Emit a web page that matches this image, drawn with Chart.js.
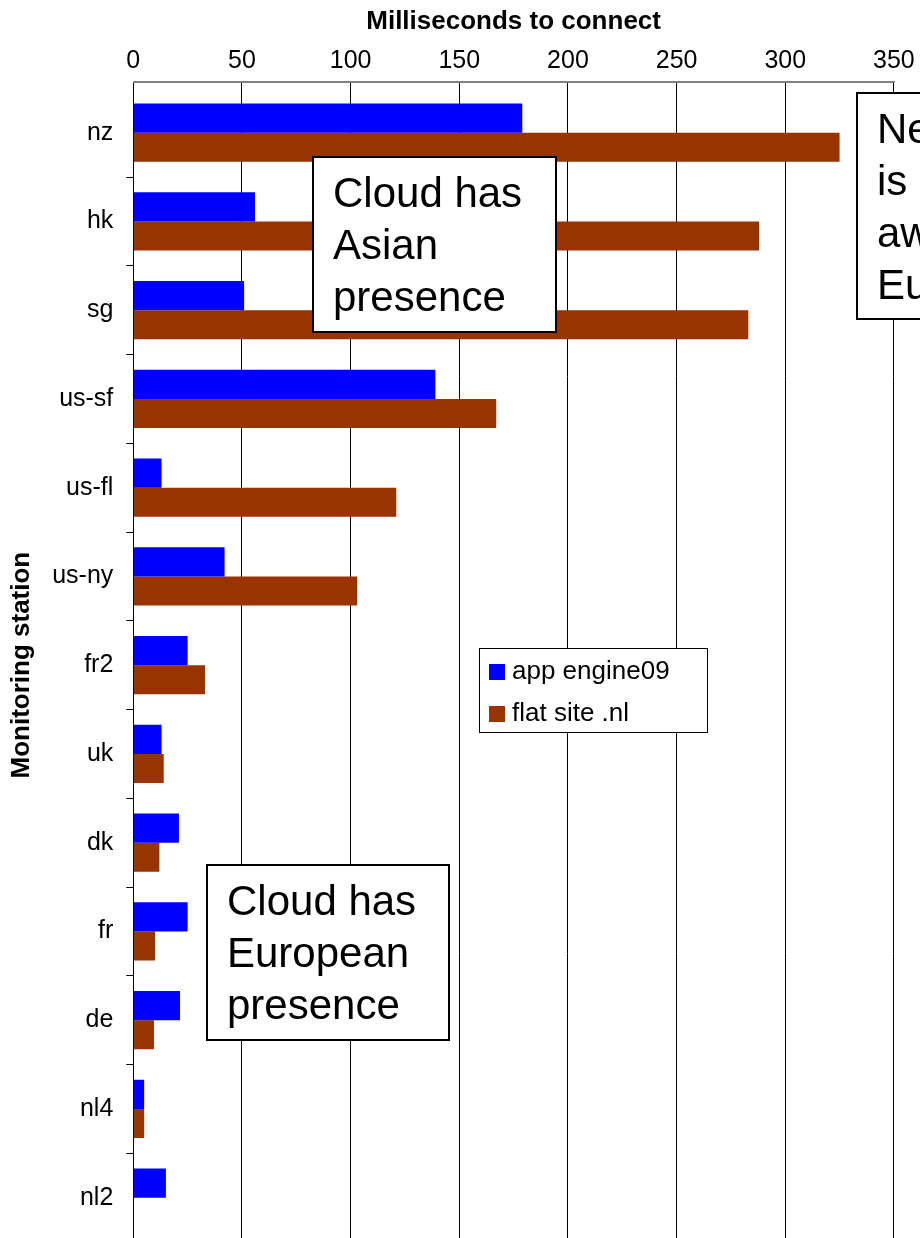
<!DOCTYPE html>
<html>
<head>
<meta charset="utf-8">
<title>Milliseconds to connect</title>
<style>
  html, body { margin: 0; padding: 0; overflow: hidden; background: #ffffff; }
  canvas { display: block; }
</style>
<script src="https://cdn.jsdelivr.net/npm/chart.js@4.4.1/dist/chart.umd.min.js"></script>
</head>
<body>
<canvas id="latency" width="1000" height="1270"></canvas>
<script>
// Monitoring stations, top to bottom
const stations = ['nz', 'hk', 'sg', 'us-sf', 'us-fl', 'us-ny', 'fr2', 'uk', 'dk', 'fr', 'de', 'nl4', 'nl2'];
// Connect time in milliseconds per station
const appEngine09 = [179, 56, 51, 139, 13, 42, 25, 13, 21, 25, 21.5, 5, 15];
const flatSiteNl  = [325, 288, 283, 167, 121, 103, 33, 14, 12, 10, 9.5, 5, 0];
// Value axis
const axisMax = 350;
const axisStep = 50;

const FONT = "'Liberation Sans', Arial, Helvetica, sans-serif";

// Plot frame inside the canvas (px)
const frame = { left: 133.3, top: 88.25, right: 893.9, bottom: 1242 };
const CANVAS_W = 1000, CANVAS_H = 1270;

// Call-out boxes, placed in axis units (x: ms, y: station index)
const notes = [
  { lines: ['Cloud has', 'Asian', 'presence'],             x0: 82.7,  x1: 194.3, y0: 0.27,  y1: 2.25 },
  { lines: ['Cloud has', 'European', 'presence'],          x0: 33.8,  x1: 145.3, y0: 8.25,  y1: 10.22 },
  { lines: ['New Zealand', 'is', 'away from', 'Europe'],   x0: 333.0, x1: 460.0, y0: -0.45, y1: 2.1 }
];
// Legend box, in axis units
const legendSpot = { x0: 159.1, x1: 263.9, y0: 5.81, y1: 6.75 };

// Grey axis rule above the plot, where the value axis sits
const topRule = {
  id: 'topRule',
  afterDraw(chart) {
    const { ctx, chartArea: a } = chart;
    ctx.save();
    ctx.strokeStyle = '#808080';
    ctx.lineWidth = 2;
    ctx.beginPath();
    ctx.moveTo(a.left, Math.round(a.top) - 6);
    ctx.lineTo(a.right + 1, Math.round(a.top) - 6);
    ctx.stroke();
    ctx.restore();
  }
};

// Text boxes drawn over the bars
const callouts = {
  id: 'callouts',
  afterDraw(chart) {
    const { ctx } = chart;
    const xs = chart.scales.x, ys = chart.scales.y;
    ctx.save();
    for (const n of notes) {
      const l = Math.round(xs.getPixelForValue(n.x0));
      const r = Math.round(xs.getPixelForValue(n.x1));
      const t = Math.round(ys.getPixelForValue(n.y0));
      const b = Math.round(ys.getPixelForValue(n.y1));
      ctx.fillStyle = '#ffffff';
      ctx.fillRect(l, t, r - l, b - t);
      ctx.strokeStyle = '#000000';
      ctx.lineWidth = 2;
      ctx.strokeRect(l, t, r - l, b - t);
      ctx.fillStyle = '#000000';
      ctx.font = '42px ' + FONT;
      ctx.textAlign = 'left';
      ctx.textBaseline = 'alphabetic';
      n.lines.forEach((line, i) => ctx.fillText(line, l + 20, t + 50 + i * 52));
    }
    ctx.restore();
  }
};

// Series key inside the plot
const seriesKey = {
  id: 'seriesKey',
  afterDraw(chart) {
    const { ctx } = chart;
    const xs = chart.scales.x, ys = chart.scales.y;
    const l = Math.round(xs.getPixelForValue(legendSpot.x0));
    const r = Math.round(xs.getPixelForValue(legendSpot.x1));
    const t = Math.round(ys.getPixelForValue(legendSpot.y0));
    const b = Math.round(ys.getPixelForValue(legendSpot.y1));
    ctx.save();
    ctx.fillStyle = '#ffffff';
    ctx.fillRect(l, t, r - l, b - t);
    ctx.strokeStyle = '#000000';
    ctx.lineWidth = 1;
    ctx.strokeRect(l + 0.5, t + 0.5, r - l, b - t);
    ctx.font = '26px ' + FONT;
    ctx.textAlign = 'left';
    ctx.textBaseline = 'alphabetic';
    chart.data.datasets.forEach((ds, i) => {
      ctx.fillStyle = ds.backgroundColor;
      ctx.fillRect(l + 10, t + 16 + i * 42, 16, 16);
      ctx.fillStyle = '#000000';
      ctx.fillText(ds.label, l + 33, t + 31 + i * 42);
    });
    ctx.restore();
  }
};

new Chart(document.getElementById('latency'), {
  type: 'bar',
  data: {
    labels: stations,
    datasets: [
      { label: 'app engine09', data: appEngine09, backgroundColor: '#0000FF', categoryPercentage: 0.654, barPercentage: 1 },
      { label: 'flat site .nl', data: flatSiteNl, backgroundColor: '#993300', categoryPercentage: 0.654, barPercentage: 1 }
    ]
  },
  options: {
    indexAxis: 'y',
    responsive: false,
    animation: false,
    layout: { padding: { left: 0, top: 0, right: CANVAS_W - frame.right, bottom: CANVAS_H - frame.bottom } },
    plugins: { legend: { display: false }, tooltip: { enabled: false } },
    scales: {
      x: {
        position: 'top',
        min: 0,
        max: axisMax,
        ticks: { stepSize: axisStep, color: '#000000', font: { family: FONT, size: 25 }, padding: 6 },
        grid: { color: '#000000', lineWidth: 1, drawTicks: true, tickLength: 6, tickColor: '#000000' },
        border: { display: false },
        title: {
          display: true,
          text: 'Milliseconds to connect',
          color: '#000000',
          font: { family: FONT, size: 26, weight: 'bold' },
          padding: { top: 6, bottom: 0 }
        },
        afterFit(scale) { scale.height = frame.top; }
      },
      y: {
        ticks: { color: '#000000', font: { family: FONT, size: 25 }, padding: 13 },
        grid: {
          drawOnChartArea: false,
          drawTicks: true,
          tickLength: 7,
          offset: true,
          // no tick mark on the top edge, only between stations
          color: (c) => (c.index === 0 ? 'rgba(0,0,0,0)' : '#000000')
        },
        border: { display: true, color: '#000000', width: 1 },
        title: {
          display: true,
          text: 'Monitoring station',
          color: '#000000',
          font: { family: FONT, size: 26, weight: 'bold' },
          padding: { top: 6, bottom: 0 }
        },
        afterFit(scale) { scale.width = frame.left; }
      }
    }
  },
  plugins: [topRule, seriesKey, callouts]
});
</script>
</body>
</html>
